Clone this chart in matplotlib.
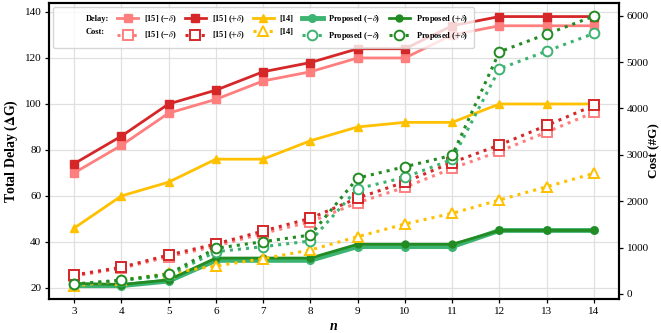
import matplotlib
matplotlib.use("Agg")
import matplotlib.pyplot as plt
from matplotlib.lines import Line2D

plt.rcParams['font.family'] = ['Liberation Serif', 'DejaVu Serif']
plt.rcParams['mathtext.fontset'] = 'stix'

n = [3, 4, 5, 6, 7, 8, 9, 10, 11, 12, 13, 14]

# Delay (left axis)
delay_15_minus = [70, 82, 96, 102, 110, 114, 120, 120, 130, 134, 134, 134]
delay_15_plus = [74, 86, 100, 106, 114, 118, 124, 124, 134, 138, 138, 138]
delay_14 = [46, 60, 66, 76, 76, 84, 90, 92, 92, 100, 100, 100]
delay_prop_minus = [21, 21, 23, 32, 32, 32, 38, 38, 38, 45, 45, 45]
delay_prop_plus = [22, 21.5, 23.5, 33, 33, 33, 39, 39, 39, 45, 45, 45]

# Cost (right axis)
cost_15_minus = [388, 553, 805, 1034, 1308, 1555, 1968, 2300, 2708, 3075, 3491, 3916]
cost_15_plus = [409, 575, 840, 1078, 1358, 1631, 2069, 2414, 2835, 3211, 3635, 4066]
cost_14 = [172, 295, 445, 605, 761, 948, 1235, 1509, 1739, 2026, 2313, 2601]
cost_prop_minus = [205, 290, 400, 912, 1020, 1142, 2270, 2515, 2900, 4856, 5237, 5618]
cost_prop_plus = [215, 300, 430, 985, 1128, 1271, 2500, 2744, 2989, 5222, 5603, 5991]

c_lred = '#ff7f7f'
c_dred = '#d62728'
c_yel = '#ffc000'
c_lgrn = '#3cb371'
c_dgrn = '#228b22'

fig = plt.figure(figsize=(6.61, 3.33), dpi=100)
ax1 = fig.add_axes([49/661, 1-299/333, 570/661, 296/333])
ax2 = ax1.twinx()

# delay lines
l1, = ax1.plot(n, delay_15_minus, '-', color=c_lred, lw=2, marker='s', ms=5.5)
l2, = ax1.plot(n, delay_15_plus, '-', color=c_dred, lw=2, marker='s', ms=5.5)
l3, = ax1.plot(n, delay_14, '-', color=c_yel, lw=2, marker='^', ms=6)
l4, = ax1.plot(n, delay_prop_minus, '-', color=c_lgrn, lw=3.5, marker='o', ms=5.5)
l5, = ax1.plot(n, delay_prop_plus, '-', color=c_dgrn, lw=2, marker='o', ms=5)

# cost lines
kw = dict(ls=':', lw=2.2, ms=7, mfc='white', mew=1.4)
c1, = ax2.plot(n, cost_15_minus, color=c_lred, marker='s', **kw)
c2, = ax2.plot(n, cost_15_plus, color=c_dred, marker='s', **kw)
c3, = ax2.plot(n, cost_14, color=c_yel, marker='^', **kw)
c4, = ax2.plot(n, cost_prop_minus, color=c_lgrn, marker='o', **kw)
c5, = ax2.plot(n, cost_prop_plus, color=c_dgrn, marker='o', **kw)

ax1.set_xlim(2.47, 14.53)
ax1.set_ylim(15.2, 143.9)
ax2.set_ylim(-108, 6274)
ax1.set_xticks(n)
ax1.set_yticks([20, 40, 60, 80, 100, 120, 140])
ax2.set_yticks([0, 1000, 2000, 3000, 4000, 5000, 6000])
ax1.grid(True, color='#e0e0e0', lw=0.9)
ax1.set_axisbelow(True)

for ax in (ax1, ax2):
    ax.tick_params(labelsize=8, length=3, pad=2.5, width=0.9)
    for s in ax.spines.values():
        s.set_linewidth(1.5)

ax1.set_xlabel('n', fontsize=10, fontweight='bold', fontstyle='italic', labelpad=3)
ax1.set_ylabel('Total Delay ($\\mathbf{\\Delta}$G)', fontsize=10, fontweight='bold', labelpad=3)
ax2.set_ylabel('Cost (#G)', fontsize=9.5, fontweight='bold', labelpad=0)
ax2.yaxis.set_label_coords(1.0 + 29/570, 0.5)

blank = Line2D([], [], ls='none', marker=None)
handles = [blank, blank, l1, c1, l2, c2, l3, c3, l4, c4, l5, c5]
labels = ['Delay:', 'Cost:',
          '[15] ($-\\delta$)', '[15] ($-\\delta$)',
          '[15] ($+\\delta$)', '[15] ($+\\delta$)',
          '[14]', '[14]',
          'Proposed ($-\\delta$)', 'Proposed ($-\\delta$)',
          'Proposed ($+\\delta$)', 'Proposed ($+\\delta$)']
leg = ax2.legend(handles, labels, ncol=6, loc='upper left',
                 bbox_to_anchor=(4/570, 0.986), borderaxespad=0,
                 prop={'weight': 'bold', 'size': 6},
                 handlelength=2.5, columnspacing=1.0, handletextpad=0.7,
                 borderpad=0.7, labelspacing=0.6, framealpha=0.8)
leg.get_frame().set_edgecolor('#cccccc')

fig.savefig('out.png', dpi=100)
